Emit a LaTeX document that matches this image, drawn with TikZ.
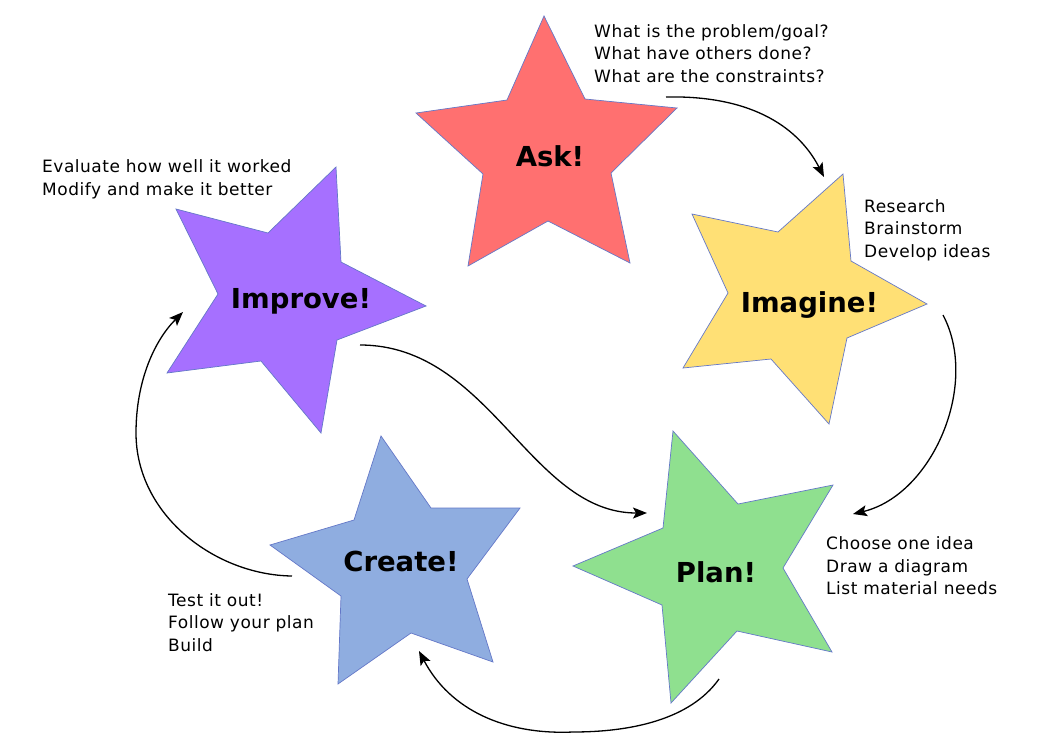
\documentclass[tikz,border=0pt]{standalone}
\usepackage{fontspec}
\setmainfont{DejaVu Sans}
\newfontfamily\notefont{DejaVu Sans}[LetterSpace=3]
\usetikzlibrary{arrows.meta}
\definecolor{askred}{RGB}{255,112,112}
\definecolor{imgyellow}{RGB}{255,224,117}
\definecolor{plangreen}{RGB}{143,224,143}
\definecolor{createblue}{RGB}{143,173,224}
\definecolor{improvepurple}{RGB}{166,112,255}
\definecolor{starline}{RGB}{100,120,200}
\tikzset{
  starshape/.style={draw=starline, line width=0.7pt, line join=miter},
  starlabel/.style={font=\fontsize{27.5}{30}\selectfont\bfseries, anchor=base, inner sep=0pt},
  noteline/.style={font=\notefont\fontsize{17}{22}\selectfont, anchor=base west, inner sep=0pt},
  flow/.style={line width=1.3pt, -{Stealth[length=14pt,width=11pt,inset=3pt]}}
}
\begin{document}
\begin{tikzpicture}[x=1pt,y=-1pt]
\useasboundingbox (0,0) rectangle (1053,745);
\fill[white] (0,0) rectangle (1053,745);

% Ask star
\filldraw[starshape, fill=askred] (544,16) -- (585,99) -- (677,108) -- (611,173) -- (630,263) -- (548,221) -- (468,266) -- (483,174) -- (416,113) -- (507,100) -- cycle;
\node[starlabel] (ask) at (550,166) {Ask!};

% Imagine star
\filldraw[starshape, fill=imgyellow] (843,174) -- (851,261) -- (927,304) -- (847,338) -- (829,424) -- (771,359) -- (683,368) -- (728,293) -- (692,214) -- (778,232) -- cycle;
\node[starlabel] (imagine) at (809.5,312) {Imagine!};

% Plan star
\filldraw[starshape, fill=plangreen] (673,431) -- (738,504) -- (833,485) -- (783,568) -- (832,652) -- (737,631) -- (671,703) -- (662,605) -- (573,566) -- (663,528) -- cycle;
\node[starlabel] (plan) at (716,582) {Plan!};

% Create star
\filldraw[starshape, fill=createblue] (381,436) -- (431,508) -- (520,508) -- (467,579) -- (493,662) -- (411,633) -- (338,684) -- (341,596) -- (270,545) -- (354,520) -- cycle;
\node[starlabel] (create) at (401,571) {Create!};

% Improve star
\filldraw[starshape, fill=improvepurple] (336,167) -- (341,262) -- (426,306) -- (337,340) -- (321,433) -- (261,361) -- (167,373) -- (218,294) -- (176,209) -- (268,233) -- cycle;
\node[starlabel] (improve) at (301,308) {Improve!};

% Notes
\node[noteline] (ask1) at (594,37) {What is the problem/goal?};
\node[noteline] (ask2) at (594,59.5) {What have others done?};
\node[noteline] (ask3) at (594,82) {What are the constraints?};

\node[noteline] (img1) at (864,212) {Research};
\node[noteline] (img2) at (864,234.5) {Brainstorm};
\node[noteline] (img3) at (864,257) {Develop ideas};

\node[noteline] (pl1) at (826,549.5) {Choose one idea};
\node[noteline] (pl2) at (826,572) {Draw a diagram};
\node[noteline] (pl3) at (826,594.5) {List material needs};

\node[noteline] (cr1) at (168,606) {Test it out!};
\node[noteline] (cr2) at (168,628.5) {Follow your plan};
\node[noteline] (cr3) at (168,651) {Build};

\node[noteline] (im1) at (42,172.5) {Evaluate how well it worked};
\node[noteline] (im2) at (42,195) {Modify and make it better};

% Connector end points
\coordinate (askout) at (666,97);
\coordinate (imgin) at (824,177);
\coordinate (imgout) at (943,315);
\coordinate (planin) at (853,514);
\coordinate (planout) at (719,679);
\coordinate (planlow) at (573,732);
\coordinate (createin) at (419,651);
\coordinate (createout) at (292,576);
\coordinate (leftmost) at (136,433);
\coordinate (improvein) at (183,312);
\coordinate (improveout) at (360,345);
\coordinate (planleft) at (647,513);

% Connectors
\draw[flow] (askout) .. controls (755,95) and (800,130) .. (imgin);
\draw[flow] (imgout) .. controls (980,385) and (932,495) .. (planin);
\draw[flow] (planout) .. controls (690,720) and (630,732) .. (planlow) .. controls (505,735) and (450,710) .. (createin);
\draw[flow] (createout) .. controls (215,575) and (136,515) .. (leftmost) .. controls (136,380) and (155,340) .. (improvein);
\draw[flow] (improveout) .. controls (490,345) and (530,513) .. (planleft);
\end{tikzpicture}
\end{document}
